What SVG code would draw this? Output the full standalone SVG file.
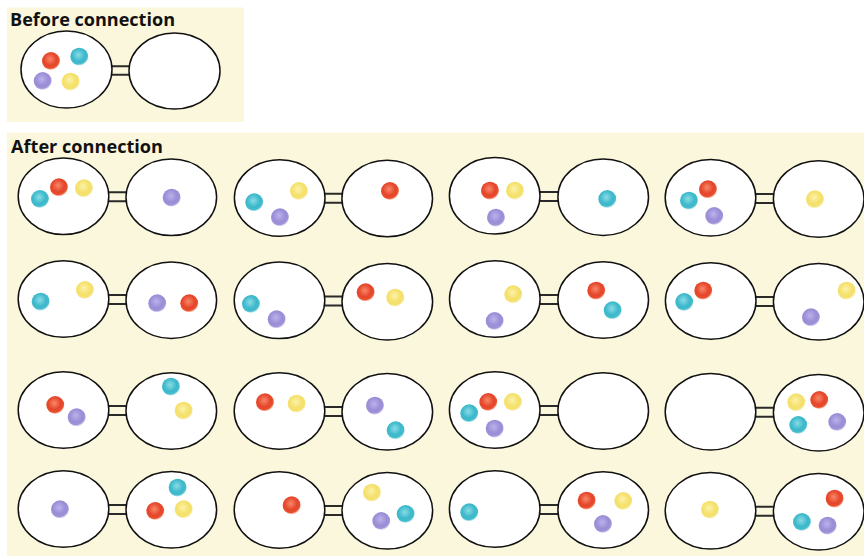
<svg xmlns="http://www.w3.org/2000/svg" width="864" height="556" viewBox="0 0 864 556">
<style>
.panel{fill:#FBF7DC;stroke:none}
.title{font-family:"Open Sans","Liberation Sans",sans-serif;font-weight:bold;font-size:18px;fill:#111}
.cell{fill:#fff;stroke:#111;stroke-width:1.5}
.conn{fill:none;stroke:#2a2a2a;stroke-width:2}
.r{fill:url(#gR)}.c{fill:url(#gC)}.p{fill:url(#gP)}.y{fill:url(#gY)}
</style>
<defs>
<radialGradient id="gR" cx="0.45" cy="0.4" r="0.6"><stop offset="0" stop-color="#F88868"/><stop offset="0.6" stop-color="#E5442A"/><stop offset="0.85" stop-color="#E8502F"/><stop offset="1" stop-color="#F4A080" stop-opacity="0.4"/></radialGradient>
<radialGradient id="gC" cx="0.45" cy="0.4" r="0.6"><stop offset="0" stop-color="#8ADCE6"/><stop offset="0.6" stop-color="#3CB8CB"/><stop offset="0.85" stop-color="#45BCCE"/><stop offset="1" stop-color="#A0DCE4" stop-opacity="0.4"/></radialGradient>
<radialGradient id="gP" cx="0.45" cy="0.4" r="0.6"><stop offset="0" stop-color="#BCB2EC"/><stop offset="0.6" stop-color="#9A8DD6"/><stop offset="0.85" stop-color="#A093D8"/><stop offset="1" stop-color="#C8C0EC" stop-opacity="0.4"/></radialGradient>
<radialGradient id="gY" cx="0.45" cy="0.4" r="0.6"><stop offset="0" stop-color="#FCF2A8"/><stop offset="0.6" stop-color="#F4E06A"/><stop offset="0.85" stop-color="#F4E274"/><stop offset="1" stop-color="#F8EEB0" stop-opacity="0.4"/></radialGradient>
</defs>
<rect width="864" height="556" fill="#fff"/>
<rect class="panel" x="7" y="7.5" width="237" height="114.5"/>
<rect class="panel" x="7" y="132.5" width="857" height="423.5"/>
<text class="title" x="10" y="26" textLength="165" lengthAdjust="spacingAndGlyphs">Before connection</text>
<text class="title" x="11" y="153" textLength="152" lengthAdjust="spacingAndGlyphs">After connection</text>
<g id="connectors" class="conn">
<path d="M104 66.2H136M104 74.8H136"/>
<path d="M100 192.3H135M100 201.3H135"/>
<path d="M316 193.8H351M316 202.8H351"/>
<path d="M531 192H567M531 201H567"/>
<path d="M747 193.9H782M747 202.9H782"/>
<path d="M100 295.1H135M100 304.1H135"/>
<path d="M316 296.5H351M316 305.5H351"/>
<path d="M531 295H567M531 304H567"/>
<path d="M747 296.9H782M747 305.9H782"/>
<path d="M100 406H135M100 415H135"/>
<path d="M316 406.9H351M316 415.9H351"/>
<path d="M531 406H567M531 415H567"/>
<path d="M747 407.7H782M747 416.7H782"/>
<path d="M100 504.9H135M100 513.9H135"/>
<path d="M316 505.9H351M316 514.9H351"/>
<path d="M531 505H567M531 514H567"/>
<path d="M747 506.8H782M747 515.8H782"/>
</g>
<g id="before">
<ellipse class="cell" cx="66.5" cy="69.5" rx="45.5" ry="38.5"/>
<ellipse class="cell" cx="174.5" cy="71" rx="45.5" ry="38"/>
<circle class="r" cx="51" cy="61" r="9"/><circle class="c" cx="79.3" cy="56.7" r="9"/><circle class="p" cx="42.7" cy="81" r="9"/><circle class="y" cx="70.7" cy="81.7" r="9"/>
</g>
<g id="r1c1"><ellipse class="cell" cx="63.5" cy="196.3" rx="45.3" ry="38.3"/><ellipse class="cell" cx="171.3" cy="197.3" rx="45.3" ry="38.3"/>
<circle class="c" cx="40" cy="199" r="9"/><circle class="r" cx="59" cy="187.3" r="9"/><circle class="y" cx="84" cy="188.3" r="9"/><circle class="p" cx="171.7" cy="197.7" r="9"/></g>
<g id="r1c2"><ellipse class="cell" cx="279.7" cy="198" rx="45.3" ry="38.3"/><ellipse class="cell" cx="387.2" cy="198.5" rx="45.3" ry="38.3"/>
<circle class="c" cx="254.3" cy="202.3" r="9"/><circle class="p" cx="280" cy="217.3" r="9"/><circle class="y" cx="299" cy="191" r="9"/><circle class="r" cx="390" cy="191" r="9"/></g>
<g id="r1c3"><ellipse class="cell" cx="494.7" cy="195.7" rx="45.3" ry="38.3"/><ellipse class="cell" cx="603.2" cy="197.2" rx="45.3" ry="38.3"/>
<circle class="r" cx="490" cy="190.7" r="9"/><circle class="y" cx="515" cy="190.7" r="9"/><circle class="p" cx="496" cy="217.7" r="9"/><circle class="c" cx="607.3" cy="199" r="9"/></g>
<g id="r1c4"><ellipse class="cell" cx="710.5" cy="197.7" rx="45.3" ry="38.3"/><ellipse class="cell" cx="818.7" cy="199" rx="45.3" ry="38.3"/>
<circle class="c" cx="689" cy="200.7" r="9"/><circle class="r" cx="708" cy="189.3" r="9"/><circle class="p" cx="714.3" cy="216" r="9"/><circle class="y" cx="815" cy="199.3" r="9"/></g>
<g id="r2c1"><ellipse class="cell" cx="63.5" cy="299" rx="45.3" ry="38.3"/><ellipse class="cell" cx="171.3" cy="300.2" rx="45.3" ry="38.3"/>
<circle class="c" cx="40.7" cy="301.7" r="9"/><circle class="y" cx="85" cy="290" r="9"/><circle class="p" cx="157.3" cy="303.3" r="9"/><circle class="r" cx="189.3" cy="303.3" r="9"/></g>
<g id="r2c2"><ellipse class="cell" cx="279.5" cy="300.3" rx="45.3" ry="38.3"/><ellipse class="cell" cx="387.3" cy="301.7" rx="45.3" ry="38.3"/>
<circle class="c" cx="251" cy="304" r="9"/><circle class="p" cx="276.7" cy="319.3" r="9"/><circle class="r" cx="365.7" cy="292.3" r="9"/><circle class="y" cx="395.3" cy="297.7" r="9"/></g>
<g id="r2c3"><ellipse class="cell" cx="494.8" cy="299" rx="45.3" ry="38.3"/><ellipse class="cell" cx="603.2" cy="300" rx="45.3" ry="38.3"/>
<circle class="y" cx="513.3" cy="294.3" r="9"/><circle class="p" cx="494.7" cy="321" r="9"/><circle class="r" cx="596.3" cy="290.7" r="9"/><circle class="c" cx="612.7" cy="310.3" r="9"/></g>
<g id="r2c4"><ellipse class="cell" cx="710.7" cy="301" rx="45.3" ry="38.3"/><ellipse class="cell" cx="818.7" cy="301.8" rx="45.3" ry="38.3"/>
<circle class="c" cx="684.3" cy="302" r="9"/><circle class="r" cx="703.3" cy="290.7" r="9"/><circle class="y" cx="846.7" cy="290.7" r="9"/><circle class="p" cx="811" cy="317.3" r="9"/></g>
<g id="r3c1"><ellipse class="cell" cx="63.5" cy="410" rx="45.3" ry="38.3"/><ellipse class="cell" cx="171.3" cy="411" rx="45.3" ry="38.3"/>
<circle class="r" cx="55.3" cy="405" r="9"/><circle class="p" cx="76.7" cy="417.3" r="9"/><circle class="c" cx="171" cy="386.7" r="9"/><circle class="y" cx="183.7" cy="410.7" r="9"/></g>
<g id="r3c2"><ellipse class="cell" cx="279.5" cy="411" rx="45.3" ry="38.3"/><ellipse class="cell" cx="387.3" cy="411.8" rx="45.3" ry="38.3"/>
<circle class="r" cx="265" cy="402.3" r="9"/><circle class="y" cx="296.7" cy="403.7" r="9"/><circle class="p" cx="375" cy="405.7" r="9"/><circle class="c" cx="395.7" cy="430.3" r="9"/></g>
<g id="r3c3"><ellipse class="cell" cx="494.7" cy="410" rx="45.3" ry="38.3"/><ellipse class="cell" cx="603.2" cy="411" rx="45.3" ry="38.3"/>
<circle class="c" cx="469.3" cy="413.3" r="9"/><circle class="r" cx="488.3" cy="402" r="9"/><circle class="y" cx="513" cy="402" r="9"/><circle class="p" cx="494.7" cy="428.7" r="9"/></g>
<g id="r3c4"><ellipse class="cell" cx="710.5" cy="411.7" rx="45.3" ry="38.3"/><ellipse class="cell" cx="818.7" cy="412.7" rx="45.3" ry="38.3"/>
<circle class="y" cx="796.3" cy="402.3" r="9"/><circle class="r" cx="819.3" cy="400" r="9"/><circle class="c" cx="798.3" cy="425" r="9"/><circle class="p" cx="837.3" cy="422" r="9"/></g>
<g id="r4c1"><ellipse class="cell" cx="63.5" cy="509" rx="45.3" ry="38.3"/><ellipse class="cell" cx="171.3" cy="509.8" rx="45.3" ry="38.3"/>
<circle class="p" cx="60" cy="509.3" r="9"/><circle class="c" cx="177.7" cy="487.7" r="9"/><circle class="r" cx="155.3" cy="511" r="9"/><circle class="y" cx="183.7" cy="509.3" r="9"/></g>
<g id="r4c2"><ellipse class="cell" cx="279.5" cy="510" rx="45.3" ry="38.3"/><ellipse class="cell" cx="387.3" cy="510.8" rx="45.3" ry="38.3"/>
<circle class="r" cx="291.7" cy="505.3" r="9"/><circle class="y" cx="372" cy="492.7" r="9"/><circle class="p" cx="381.3" cy="521" r="9"/><circle class="c" cx="405.7" cy="514" r="9"/></g>
<g id="r4c3"><ellipse class="cell" cx="494.7" cy="509" rx="45.3" ry="38.3"/><ellipse class="cell" cx="603.2" cy="510" rx="45.3" ry="38.3"/>
<circle class="c" cx="469.3" cy="512.3" r="9"/><circle class="r" cx="586.7" cy="500.7" r="9"/><circle class="y" cx="623.3" cy="501" r="9"/><circle class="p" cx="603" cy="524" r="9"/></g>
<g id="r4c4"><ellipse class="cell" cx="710.5" cy="510.8" rx="45.3" ry="38.3"/><ellipse class="cell" cx="818.7" cy="511.7" rx="45.3" ry="38.3"/>
<circle class="y" cx="710" cy="509.7" r="9"/><circle class="r" cx="834.7" cy="498.7" r="9"/><circle class="c" cx="802" cy="522" r="9"/><circle class="p" cx="827.7" cy="525.7" r="9"/></g>
</svg>
